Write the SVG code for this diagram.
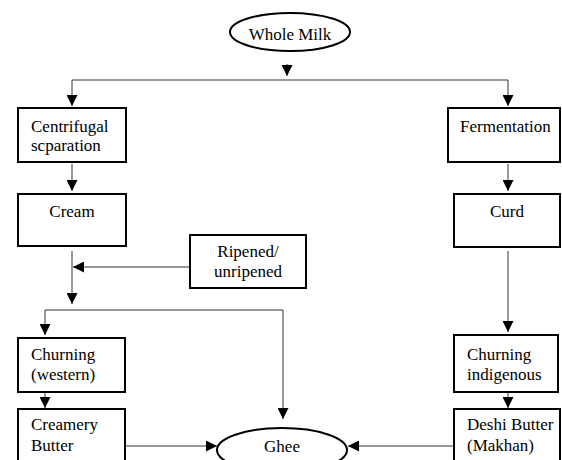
<svg xmlns="http://www.w3.org/2000/svg" width="562" height="460" viewBox="0 0 562 460">
<style>
.box{fill:#fff;stroke:#000;stroke-width:2}
.t{font-family:"Liberation Serif","Times New Roman",serif;font-size:17px;fill:#000}
.c{text-anchor:middle}
.ln{fill:none;stroke:#333;stroke-width:1}
</style>
<defs>
<marker id="ah" viewBox="0 0 10 10" refX="10" refY="5" markerWidth="11" markerHeight="11" markerUnits="userSpaceOnUse" orient="auto">
<path d="M0,0 L10,5 L0,10 z" fill="#000"/>
</marker>
</defs>
<rect width="562" height="460" fill="#fff"/>
<g id="connectors">
<path class="ln" d="M287,64 V76" marker-end="url(#ah)"/>
<path class="ln" d="M72,80 H508"/>
<path class="ln" d="M72,80 V106" marker-end="url(#ah)"/>
<path class="ln" d="M508,80 V106" marker-end="url(#ah)"/>
<path class="ln" d="M72,164 V191" marker-end="url(#ah)"/>
<path class="ln" d="M508,164 V191" marker-end="url(#ah)"/>
<path class="ln" d="M72,251 V304" marker-end="url(#ah)"/>
<path class="ln" d="M190,267 H73" marker-end="url(#ah)"/>
<path class="ln" d="M45,310 H283 V419" marker-end="url(#ah)"/>
<path class="ln" d="M45,310 V335" marker-end="url(#ah)"/>
<path class="ln" d="M45,393 V408" marker-end="url(#ah)"/>
<path class="ln" d="M126,446 H217" marker-end="url(#ah)"/>
<path class="ln" d="M508,251 V332" marker-end="url(#ah)"/>
<path class="ln" d="M508,393 V408" marker-end="url(#ah)"/>
<path class="ln" d="M454,446 H348" marker-end="url(#ah)"/>
</g>
<g id="whole-milk">
<ellipse class="box" cx="290" cy="32" rx="60" ry="19"/>
<text class="t c" x="290" y="40">Whole Milk</text>
</g>
<g id="centrifugal">
<rect class="box" x="18" y="108" width="108" height="54"/>
<text class="t" x="31" y="132">Centrifugal</text>
<text class="t" x="31" y="151">scparation</text>
</g>
<g id="cream">
<rect class="box" x="18" y="194" width="108" height="52"/>
<text class="t c" x="72" y="217">Cream</text>
</g>
<g id="ripened">
<rect class="box" x="190" y="235" width="116" height="53"/>
<text class="t c" x="248" y="257">Ripened/</text>
<text class="t c" x="248" y="277">unripened</text>
</g>
<g id="churning-western">
<rect class="box" x="18" y="338" width="107" height="54"/>
<text class="t" x="31" y="360">Churning</text>
<text class="t" x="31" y="380">(western)</text>
</g>
<g id="creamery-butter">
<rect class="box" x="18" y="409" width="107" height="60"/>
<text class="t" x="31" y="430">Creamery</text>
<text class="t" x="31" y="451">Butter</text>
</g>
<g id="fermentation">
<rect class="box" x="448" y="108" width="112" height="54"/>
<text class="t" x="460" y="132">Fermentation</text>
</g>
<g id="curd">
<rect class="box" x="454" y="194" width="106" height="53"/>
<text class="t c" x="507" y="217">Curd</text>
</g>
<g id="churning-indigenous">
<rect class="box" x="454" y="335" width="104" height="57"/>
<text class="t" x="467" y="360">Churning</text>
<text class="t" x="467" y="380">indigenous</text>
</g>
<g id="deshi-butter">
<rect class="box" x="454" y="409" width="106" height="60"/>
<text class="t" x="467" y="430">Deshi Butter</text>
<text class="t" x="467" y="451">(Makhan)</text>
</g>
<g id="ghee">
<ellipse class="box" cx="282" cy="450" rx="65" ry="22"/>
<text class="t c" x="282" y="452">Ghee</text>
</g>
</svg>
